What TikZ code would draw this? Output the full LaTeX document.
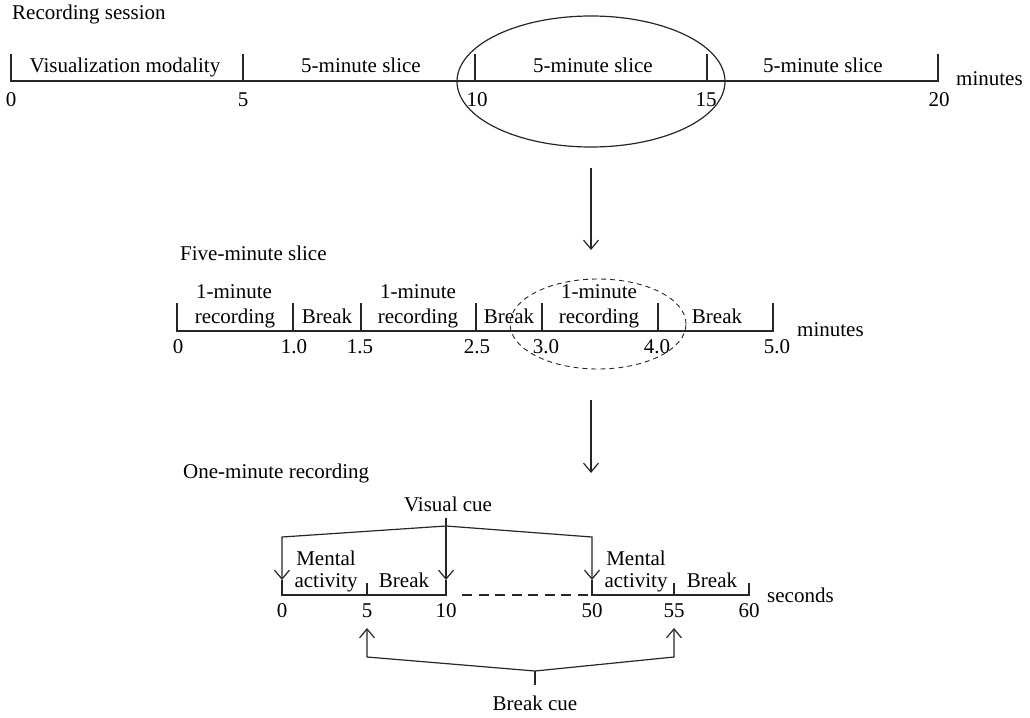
\documentclass[tikz,border=0pt]{standalone}
\usepackage{fontspec}
\setmainfont{Liberation Serif}
\usetikzlibrary{arrows.meta,shapes.geometric}
\begin{document}
\begin{tikzpicture}[x=1pt,y=-1pt,
  lbl/.style={font=\fontsize{21}{24}\selectfont, inner sep=0pt, anchor=base},
  lblw/.style={lbl, anchor=base west},
  ln/.style={line width=1.2pt, black!85, line join=miter},
  arr/.style={ln, -{Straight Barb[length=9pt,width=15pt,line width=1.2pt]}},
]
\useasboundingbox (0,0) rectangle (1030,717);

% ---------------- Recording session ----------------
\node[lblw] (ttl1) at (12,20) {Recording session};
\coordinate (a0) at (11,81);
\coordinate (a5) at (243,81);
\coordinate (a10) at (475,81);
\coordinate (a15) at (707,81);
\coordinate (a20) at (938,81);
\draw[ln] (11,54) -- (a0) -- (a20) -- (938,54);
\foreach \c in {a5,a10,a15} \draw[ln] (\c) -- ++(0,-27);
\node[lbl] (s1) at (125,73) {Visualization modality};
\node[lbl] (s2) at (361,73) {5-minute slice};
\node[lbl] (s3) at (593,73) {5-minute slice};
\node[lbl] (s4) at (823,73) {5-minute slice};
\node[lbl] (n0) at (11,106) {0};
\node[lbl] (n5) at (243,106) {5};
\node[lbl] (n10) at (477,106) {10};
\node[lbl] (n15) at (706,106) {15};
\node[lbl] (n20) at (939,106) {20};
\node[lblw] (u1) at (956,85) {minutes};
\node[ellipse, draw, ln, minimum width=268pt, minimum height=131pt, inner sep=0pt] (ell1) at (591,81.5) {};

\coordinate (ar1s) at (591,168);
\coordinate (ar1e) at (591,250);
\draw[arr] (ar1s) -- (ar1e);

% ---------------- Five-minute slice ----------------
\node[lblw] (ttl2) at (180,260) {Five-minute slice};
\coordinate (b0) at (177,331);
\coordinate (b1) at (293,331);
\coordinate (b15) at (361,331);
\coordinate (b25) at (476,331);
\coordinate (b3) at (542,331);
\coordinate (b4) at (658,331);
\coordinate (b5) at (773,331);
\draw[ln] (177,303) -- (b0) -- (b5) -- (773,303);
\foreach \c in {b1,b15,b25,b3,b4} \draw[ln] (\c) -- ++(0,-28);
\node[lbl] (m1a) at (234,298) {1-minute};
\node[lbl] (m1b) at (235,323) {recording};
\node[lbl] (m2) at (327,323) {Break};
\node[lbl] (m3a) at (418,298) {1-minute};
\node[lbl] (m3b) at (418,323) {recording};
\node[lbl] (m4) at (509,323) {Break};
\node[lbl] (m5a) at (599,298) {1-minute};
\node[lbl] (m5b) at (599,323) {recording};
\node[lbl] (m6) at (717,323) {Break};
\node[lbl] (p0) at (178,353) {0};
\node[lbl] (p1) at (294,353) {1.0};
\node[lbl] (p15) at (360,353) {1.5};
\node[lbl] (p25) at (477,353) {2.5};
\node[lbl] (p3) at (546,353) {3.0};
\node[lbl] (p4) at (657,353) {4.0};
\node[lbl] (p5) at (777,353) {5.0};
\node[lblw] (u2) at (797,336) {minutes};
\node[ellipse, draw, line width=0.9pt, black!85, dash pattern=on 5pt off 4pt, minimum width=176pt, minimum height=90pt, inner sep=0pt] (ell2) at (598,324) {};

\coordinate (ar2s) at (591,400);
\coordinate (ar2e) at (591,473);
\draw[arr] (ar2s) -- (ar2e);

% ---------------- One-minute recording ----------------
\node[lblw] (ttl3) at (183,478) {One-minute recording};
\node[lbl] (vc) at (448,511) {Visual cue};
\coordinate (vtop) at (446,518);
\coordinate (vap) at (446,526);
\coordinate (vl) at (282,537);
\coordinate (vr) at (592,537);
\coordinate (c0) at (282,580);
\coordinate (c10) at (446,580);
\coordinate (c50) at (592,580);
\draw[arr] (vap) -- (vl) -- (c0);
\draw[arr] (vap) -- (vr) -- (c50);
\draw[arr] (vtop) -- (c10);

\coordinate (d0) at (282,595);
\coordinate (d5) at (367,595);
\coordinate (d10) at (446,595);
\coordinate (d50) at (592,595);
\coordinate (d55) at (674,595);
\coordinate (d60) at (749,595);
\draw[ln] (c0) -- (d0) -- (d10) -- (c10);
\draw[ln] (d5) -- ++(0,-12);
\draw[ln, dash pattern=on 10pt off 6.5pt] (462,595) -- (588,595);
\draw[ln] (c50) -- (d50) -- (d60) -- ++(0,-12);
\draw[ln] (d55) -- ++(0,-12);

\node[lbl] (q1a) at (326,565) {Mental};
\node[lbl] (q1b) at (326,587) {activity};
\node[lbl] (q2) at (404,587) {Break};
\node[lbl] (q3a) at (636,565) {Mental};
\node[lbl] (q3b) at (636,587) {activity};
\node[lbl] (q4) at (712,587) {Break};
\node[lblw] (u3) at (767,602) {seconds};
\node[lbl] (r0) at (282,617) {0};
\node[lbl] (r5) at (367,617) {5};
\node[lbl] (r10) at (446,617) {10};
\node[lbl] (r50) at (592,617) {50};
\node[lbl] (r55) at (674,617) {55};
\node[lbl] (r60) at (749,617) {60};

\coordinate (bc) at (535,671);
\coordinate (bcb) at (535,685);
\coordinate (bl) at (367,657);
\coordinate (br) at (674,657);
\coordinate (bl2) at (367,628);
\coordinate (br2) at (674,628);
\draw[arr] (bc) -- (bl) -- (bl2);
\draw[arr] (bc) -- (br) -- (br2);
\draw[ln] (bc) -- (bcb);
\node[lbl] (bcl) at (535,710) {Break cue};
\end{tikzpicture}
\end{document}
